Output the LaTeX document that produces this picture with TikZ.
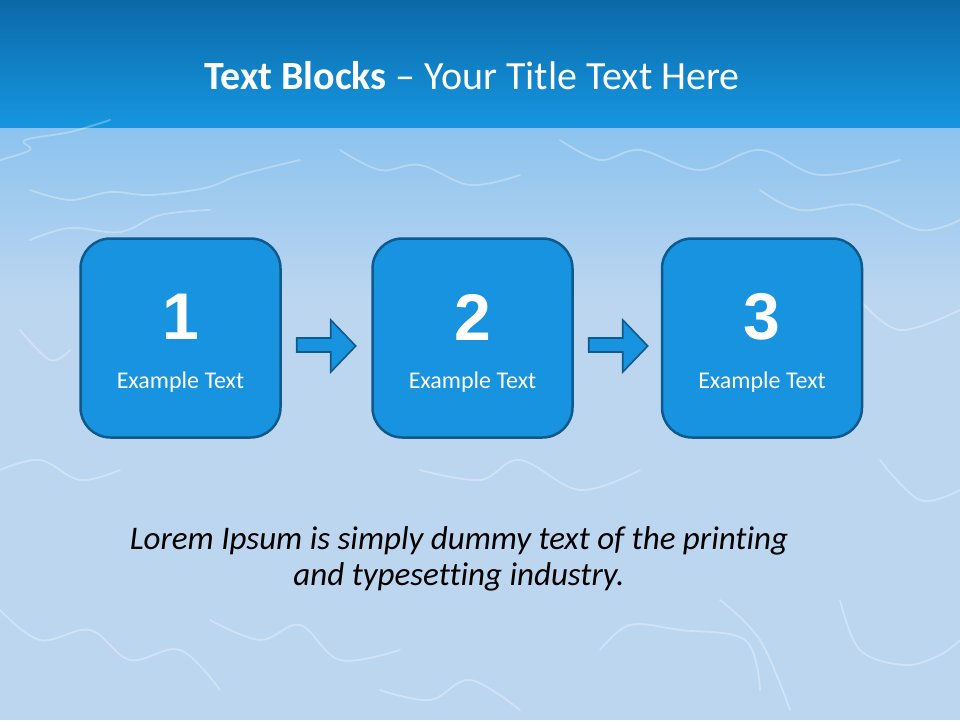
\documentclass[tikz,border=0pt]{standalone}
\usepackage{fontspec}
\setmainfont{Carlito}[Ligatures={NoCommon}]
\newfontfamily\numfont{Liberation Sans}
\usetikzlibrary{calc}
\definecolor{topA}{HTML}{0B69A8}
\definecolor{topB}{HTML}{1696E0}
\definecolor{waterA}{HTML}{8CC3EF}
\definecolor{waterB}{HTML}{BCD6F0}
\definecolor{boxfill}{HTML}{1793E0}
\definecolor{boxline}{HTML}{0F5A8C}
\tikzset{
  blockbox/.style={draw=boxline, fill=boxfill, line width=2.5pt, rounded corners=30pt,
    minimum width=200pt, minimum height=199pt, inner sep=0pt},
  bignum/.style={text=white, font=\numfont\bfseries\fontsize{66}{70}\selectfont},
  smalltxt/.style={text=white, font=\fontsize{24}{28}\selectfont},
  blockarrow/.style={draw=boxline, fill=boxfill, line width=1.6pt, line join=miter},
  caustic/.style={draw=white, line width=1.8pt, opacity=0.3, line cap=round, line join=round},
}
\begin{document}
\begin{tikzpicture}[x=1pt,y=-1pt]
\useasboundingbox (0,0) rectangle (960,720);
% background
\shade[top color=topA, bottom color=topB] (0,0) rectangle (960,128);
\shade[top color=waterA, bottom color=waterB] (0,128) rectangle (960,300);
\fill[waterB] (0,299) rectangle (960,720);
% caustic texture
\draw[caustic] plot[smooth, tension=0.6] coordinates {(0,160) (30,150) (25,140) (70,132) (110,120)};
\draw[caustic] plot[smooth, tension=0.6] coordinates {(30,190) (70,200) (110,192) (150,195) (205,188) (240,175) (300,160)};
\draw[caustic] plot[smooth, tension=0.6] coordinates {(30,240) (70,228) (120,232) (160,215) (210,210)};
\draw[caustic] plot[smooth, tension=0.6] coordinates {(340,150) (380,170) (420,165) (470,185) (520,175)};
\draw[caustic] plot[smooth, tension=0.6] coordinates {(560,140) (600,160) (640,150) (700,170) (760,150) (820,175) (900,160)};
\draw[caustic] plot[smooth, tension=0.6] coordinates {(760,190) (800,210) (860,205) (920,230) (960,220)};
\draw[caustic] plot[smooth, tension=0.6] coordinates {(0,470) (40,460) (80,480) (120,470)};
\draw[caustic] plot[smooth, tension=0.6] coordinates {(0,610) (40,640) (90,630) (130,660) (180,650) (220,690)};
\draw[caustic] plot[smooth, tension=0.6] coordinates {(210,620) (260,640) (300,625) (340,660) (400,650)};
\draw[caustic] plot[smooth, tension=0.6] coordinates {(420,470) (480,480) (520,460) (580,490) (640,470)};
\draw[caustic] plot[smooth, tension=0.6] coordinates {(600,650) (630,625) (680,630) (745,640) (760,690)};
\draw[caustic] plot[smooth, tension=0.6] coordinates {(840,600) (860,650) (905,665) (940,655) (960,640)};
\draw[caustic] plot[smooth, tension=0.6] coordinates {(720,600) (760,640) (790,710)};
\draw[caustic] plot[smooth, tension=0.6] coordinates {(880,460) (920,500) (960,490)};
\draw[caustic] plot[smooth, tension=0.6] coordinates {(380,690) (430,700) (470,680) (520,710)};
\draw[caustic] plot[smooth, tension=0.6] coordinates {(860,300) (900,330) (960,310)};
\draw[caustic] plot[smooth, tension=0.6] coordinates {(20,330) (50,360) (70,350)};
% title
\node (title) at (472,76) {\fontsize{40}{46}\selectfont\color{white}\textbf{Text Blocks} – Your Title Text Here};
% blocks
\node[blockbox] (b1) at (180.5,338) {};
\node[blockbox] (b2) at (472.5,338) {};
\node[blockbox] (b3) at (762,338) {};
\foreach \b/\n in {b1/1,b2/2,b3/3}{
  \node[bignum] (\b num) at ($(\b.center)+(0,-21)$) {\n};
  \node[smalltxt] (\b txt) at ($(\b.center)+(0,44)$) {Example Text};
}
% block arrows
\foreach \a/\b in {b1/b2,b2/b3}{
  \coordinate (s) at ($(\a.east)+(15,0)$);
  \draw[blockarrow] (s) -- ++(34,0) -- ++(0,-18) -- ++(25,26) -- ++(-25,26) -- ++(0,-20) -- ++(-34,0) -- cycle;
}
% body text
\node[align=center, font=\itshape\fontsize{33}{36}\selectfont, text=black] (body) at (459,559)
  {Lorem Ipsum is simply dummy text of the printing\\and typesetting industry.};
\end{tikzpicture}
\end{document}
